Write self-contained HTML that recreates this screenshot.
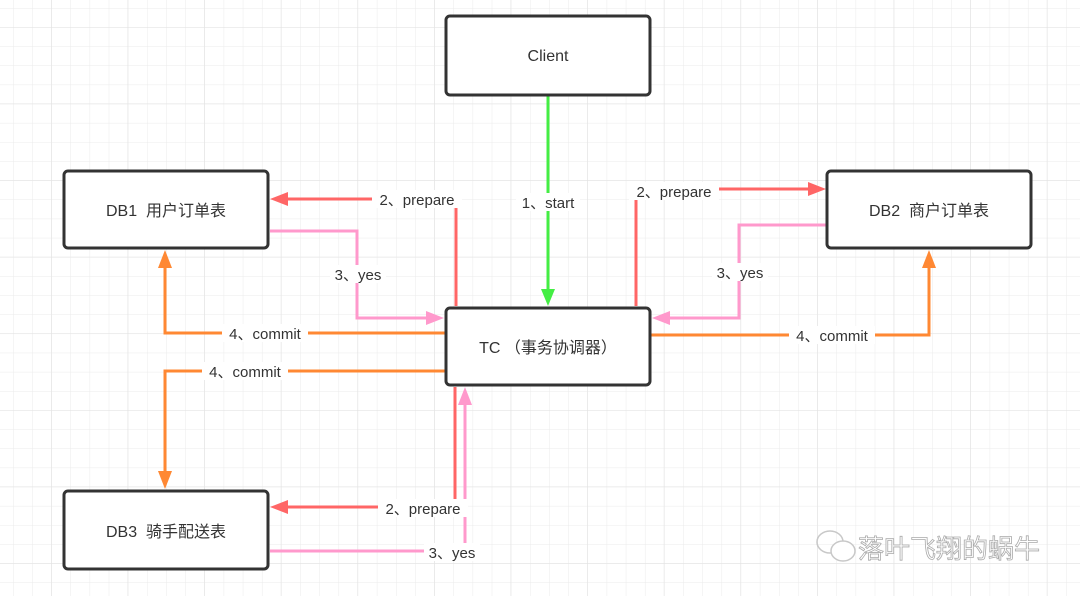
<!DOCTYPE html>
<html><head><meta charset="utf-8"><style>
html,body{margin:0;padding:0;background:#fff}
svg{display:block}
text{font-family:"Liberation Sans","Noto Sans CJK SC",sans-serif;font-size:15px;fill:#333}
.b{font-size:16px}
</style></head><body>
<svg width="1080" height="596" viewBox="0 0 1080 596" xmlns="http://www.w3.org/2000/svg">
<defs>
<pattern id="g" x="13" y="8" width="19.15" height="19.15" patternUnits="userSpaceOnUse">
<path d="M0 0H19.15M0 0V19.15" stroke="#ebebeb" stroke-width="1" fill="none"/>
</pattern>
<pattern id="G" x="51" y="27" width="76.6" height="76.6" patternUnits="userSpaceOnUse">
<path d="M0 0H76.6M0 0V76.6" stroke="#e2e2e2" stroke-width="1" fill="none"/>
</pattern>
</defs>
<rect width="1080" height="596" fill="#fff"/>
<rect width="1080" height="596" fill="url(#g)"/>
<rect width="1080" height="596" fill="url(#G)"/>

<g fill="none" stroke-width="3">
<path d="M548 96V292" stroke="#44ee44"/>
<path d="M456 306V199H284" stroke="#ff6666"/>
<path d="M636 306V189H811" stroke="#ff6666"/>
<path d="M455 387V507H284" stroke="#ff6666"/>
<path d="M270 231H357V318H430" stroke="#ff99cc"/>
<path d="M826 225H739V318H666" stroke="#ff99cc"/>
<path d="M270 551H465V401" stroke="#ff99cc"/>
<path d="M445 333H165V264" stroke="#ff8833"/>
<path d="M445 371H165V475" stroke="#ff8833"/>
<path d="M651 335H929V264" stroke="#ff8833"/>
</g>
<g>
<path d="M548 306L541 289H555Z" fill="#44ee44"/>
<path d="M270 199L288 192V206Z" fill="#ff6666"/>
<path d="M826 189L808 182V196Z" fill="#ff6666"/>
<path d="M270 507L288 500V514Z" fill="#ff6666"/>
<path d="M444 318L426 311V325Z" fill="#ff99cc"/>
<path d="M652 318L670 311V325Z" fill="#ff99cc"/>
<path d="M465 387L458 405H472Z" fill="#ff99cc"/>
<path d="M165 250L158 268H172Z" fill="#ff8833"/>
<path d="M165 489L158 471H172Z" fill="#ff8833"/>
<path d="M929 250L922 268H936Z" fill="#ff8833"/>
</g>

<g fill="#fff">
<rect x="516" y="193" width="64" height="18"/>
<rect x="372" y="190" width="90" height="18"/>
<rect x="629" y="182" width="90" height="18"/>
<rect x="378" y="499" width="90" height="18"/>
<rect x="330" y="265" width="56" height="18"/>
<rect x="712" y="263" width="56" height="18"/>
<rect x="424" y="543" width="56" height="18"/>
<rect x="222" y="324" width="86" height="18"/>
<rect x="202" y="362" width="86" height="18"/>
<rect x="789" y="326" width="86" height="18"/>
</g>
<g>
<text x="548" y="208" text-anchor="middle">1、start</text>
<text x="417" y="205" text-anchor="middle">2、prepare</text>
<text x="674" y="197" text-anchor="middle">2、prepare</text>
<text x="423" y="514" text-anchor="middle">2、prepare</text>
<text x="358" y="280" text-anchor="middle">3、yes</text>
<text x="740" y="278" text-anchor="middle">3、yes</text>
<text x="452" y="558" text-anchor="middle">3、yes</text>
<text x="265" y="339" text-anchor="middle">4、commit</text>
<text x="245" y="377" text-anchor="middle">4、commit</text>
<text x="832" y="341" text-anchor="middle">4、commit</text>
</g>

<g fill="#fff" stroke="#333" stroke-width="3">
<rect x="446" y="16" width="204" height="79" rx="4"/>
<rect x="64" y="171" width="204" height="77" rx="4"/>
<rect x="827" y="171" width="204" height="77" rx="4"/>
<rect x="446" y="308" width="204" height="77" rx="4"/>
<rect x="64" y="491" width="204" height="78" rx="4"/>
</g>
<g text-anchor="middle" class="b">
<text class="b" x="548" y="61">Client</text>
<text class="b" x="166" y="216">DB1&#160;&#160;用户订单表</text>
<text class="b" x="929" y="216">DB2&#160;&#160;商户订单表</text>
<text class="b" x="548" y="353">TC （事务协调器）</text>
<text class="b" x="166" y="537">DB3&#160;&#160;骑手配送表</text>
</g>

<g fill="none" stroke="#c8c8c8" stroke-width="1.5">
<ellipse cx="830" cy="542" rx="13" ry="11"/>
<ellipse cx="843" cy="551" rx="12" ry="10" fill="#fff"/>
</g>
<text x="858" y="558" style="font-size:26px;fill:#fff;stroke:#aaa;stroke-width:0.8;font-family:'Noto Sans CJK SC',sans-serif">落叶飞翔的蜗牛</text>
</svg>
</body></html>
